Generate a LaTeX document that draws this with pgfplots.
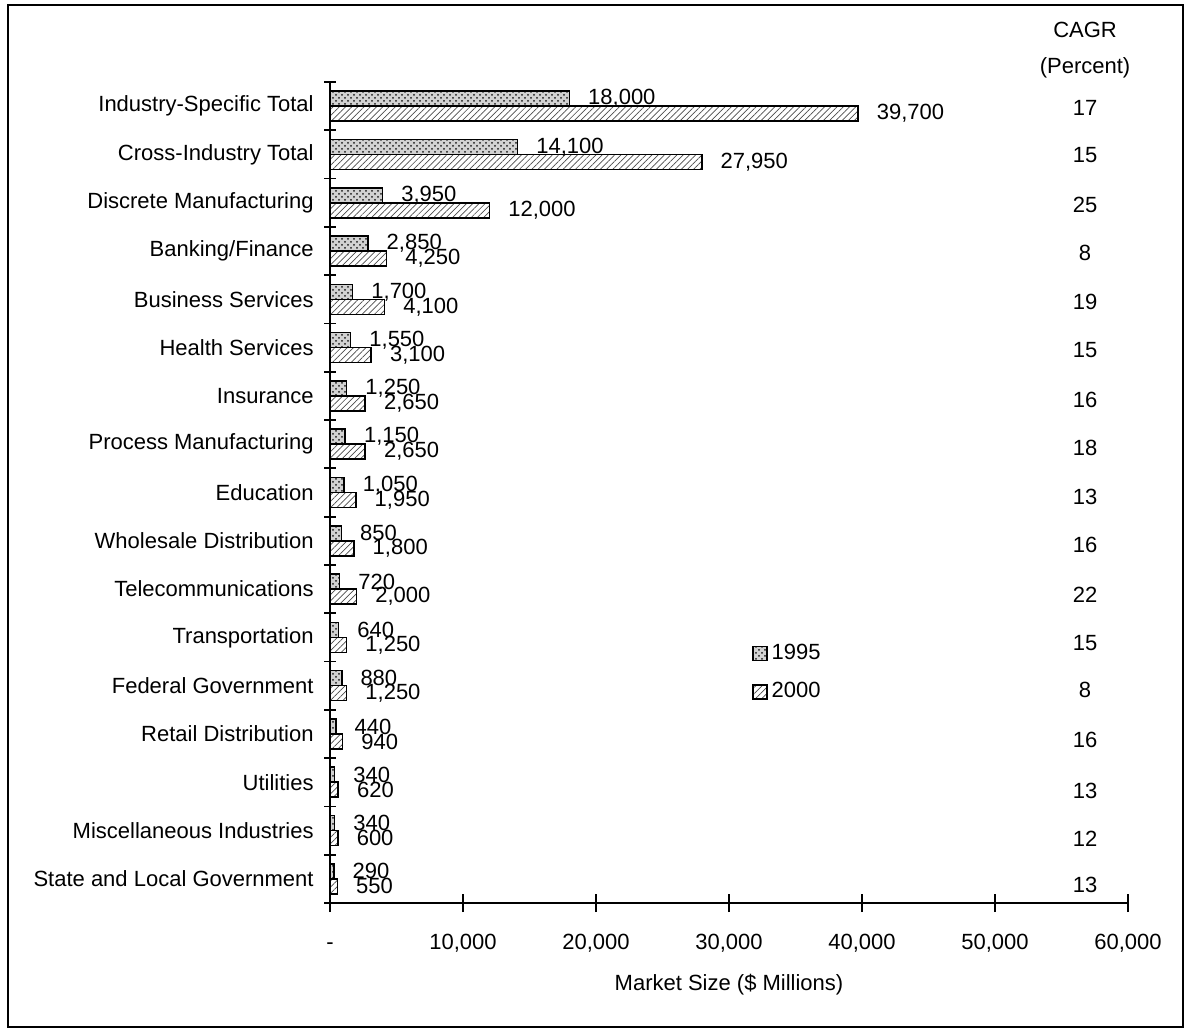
\documentclass[border=0pt]{standalone}
\usepackage{fontspec}
\setmainfont{Liberation Sans}
\usepackage{pgfplots}
\usepackage{pgfplotstable}
\pgfplotsset{compat=1.18}
\usetikzlibrary{patterns,patterns.meta}

\pgfplotstableread{
y v95 v00
16 18000 39700
15 14100 27950
14 3950 12000
13 2850 4250
12 1700 4100
11 1550 3100
10 1250 2650
9 1150 2650
8 1050 1950
7 850 1800
6 720 2000
5 640 1250
4 880 1250
3 440 940
2 340 620
1 340 600
0 290 550
}\datatable

\tikzset{
  p95/.style={draw=black, line width=0.8pt, fill=gray!35,
    postaction={pattern color=black!90, pattern=crosshatch dots}},
  p00/.style={draw=black, line width=0.8pt, fill=white,
    postaction={pattern color=black!70, pattern={Lines[angle=45,distance=2.2pt,line width=0.35pt]}}},
}

\begin{document}
\begin{tikzpicture}[x=1pt,y=1pt,font=\fontsize{11}{13}\selectfont]
\useasboundingbox (0,0) rectangle (594.5,-515.5);
\draw[line width=0.75pt] (4,-2.5) rectangle (591.5,-513.5);
\begin{axis}[
  at={(165pt,-451.5pt)}, anchor=south west,
  scale only axis, width=399pt, height=410.5pt,
  xbar, bar width=7.5pt,
  xmin=0, xmax=60000, ymin=-0.5, ymax=16.5,
  axis x line*=bottom, axis y line*=left,
  axis line style={line width=0.9pt},
  scaled x ticks=false,
  xtick={0,10000,20000,30000,40000,50000,60000},
  xticklabels={-,{10,000},{20,000},{30,000},{40,000},{50,000},{60,000}},
  ytick={0,...,16},
  yticklabels={State and Local Government, Miscellaneous Industries, Utilities, Retail Distribution, Federal Government, Transportation, Telecommunications, Wholesale Distribution, Education, Process Manufacturing, Insurance, Health Services, Business Services, Banking/Finance, Discrete Manufacturing, Cross-Industry Total, Industry-Specific Total},
  minor ytick={-0.5,0.5,...,16.5},
  tick align=center,
  major tick length=9pt, minor tick length=6pt,
  every tick/.style={black, line width=0.9pt},
  major y tick style={draw=none},
  xticklabel style={yshift=-7pt, text height=8pt, text depth=2pt},
  yticklabel style={inner sep=0pt, xshift=-3.5pt},
  xlabel={Market Size (\$ Millions)},
  xlabel style={at={(axis description cs:0.5,0)}, anchor=center, yshift=-41pt},
  nodes near coords={\pgfmathprintnumber[fixed,precision=0,1000 sep={,},assume math mode=true]{\pgfplotspointmeta}},
  every node near coord/.append style={anchor=west, inner sep=0pt, xshift=9pt, font=\fontsize{11}{13}\selectfont},
  legend image code/.code={\draw[#1] (0pt,-3.5pt) rectangle (7pt,3.5pt);},
  legend style={draw=none, fill=none, inner sep=0pt, at={(axis cs:31700,4.95)}, anchor=north west, row sep=6pt, font=\fontsize{11}{13}\selectfont},
  legend cell align=left,
  clip=false,
]
\addplot[p95, bar shift=3.75pt] table[x=v95, y=y] {\datatable};
\addplot[p00, bar shift=-3.75pt] table[x=v00, y=y] {\datatable};
\legend{1995,2000}
\node at (axis cs:56770,17.58) {CAGR};
\node at (axis cs:56770,16.79) {(Percent)};
\node at (axis cs:56770,15.96) {17};
\node at (axis cs:56770,14.98) {15};
\node at (axis cs:56770,13.96) {25};
\node at (axis cs:56770,12.96) {8};
\node at (axis cs:56770,11.94) {19};
\node at (axis cs:56770,10.96) {15};
\node at (axis cs:56770,9.92) {16};
\node at (axis cs:56770,8.92) {18};
\node at (axis cs:56770,7.90) {13};
\node at (axis cs:56770,6.92) {16};
\node at (axis cs:56770,5.88) {22};
\node at (axis cs:56770,4.88) {15};
\node at (axis cs:56770,3.92) {8};
\node at (axis cs:56770,2.88) {16};
\node at (axis cs:56770,1.83) {13};
\node at (axis cs:56770,0.83) {12};
\node at (axis cs:56770,-0.12) {13};
\end{axis}
\end{tikzpicture}
\end{document}
